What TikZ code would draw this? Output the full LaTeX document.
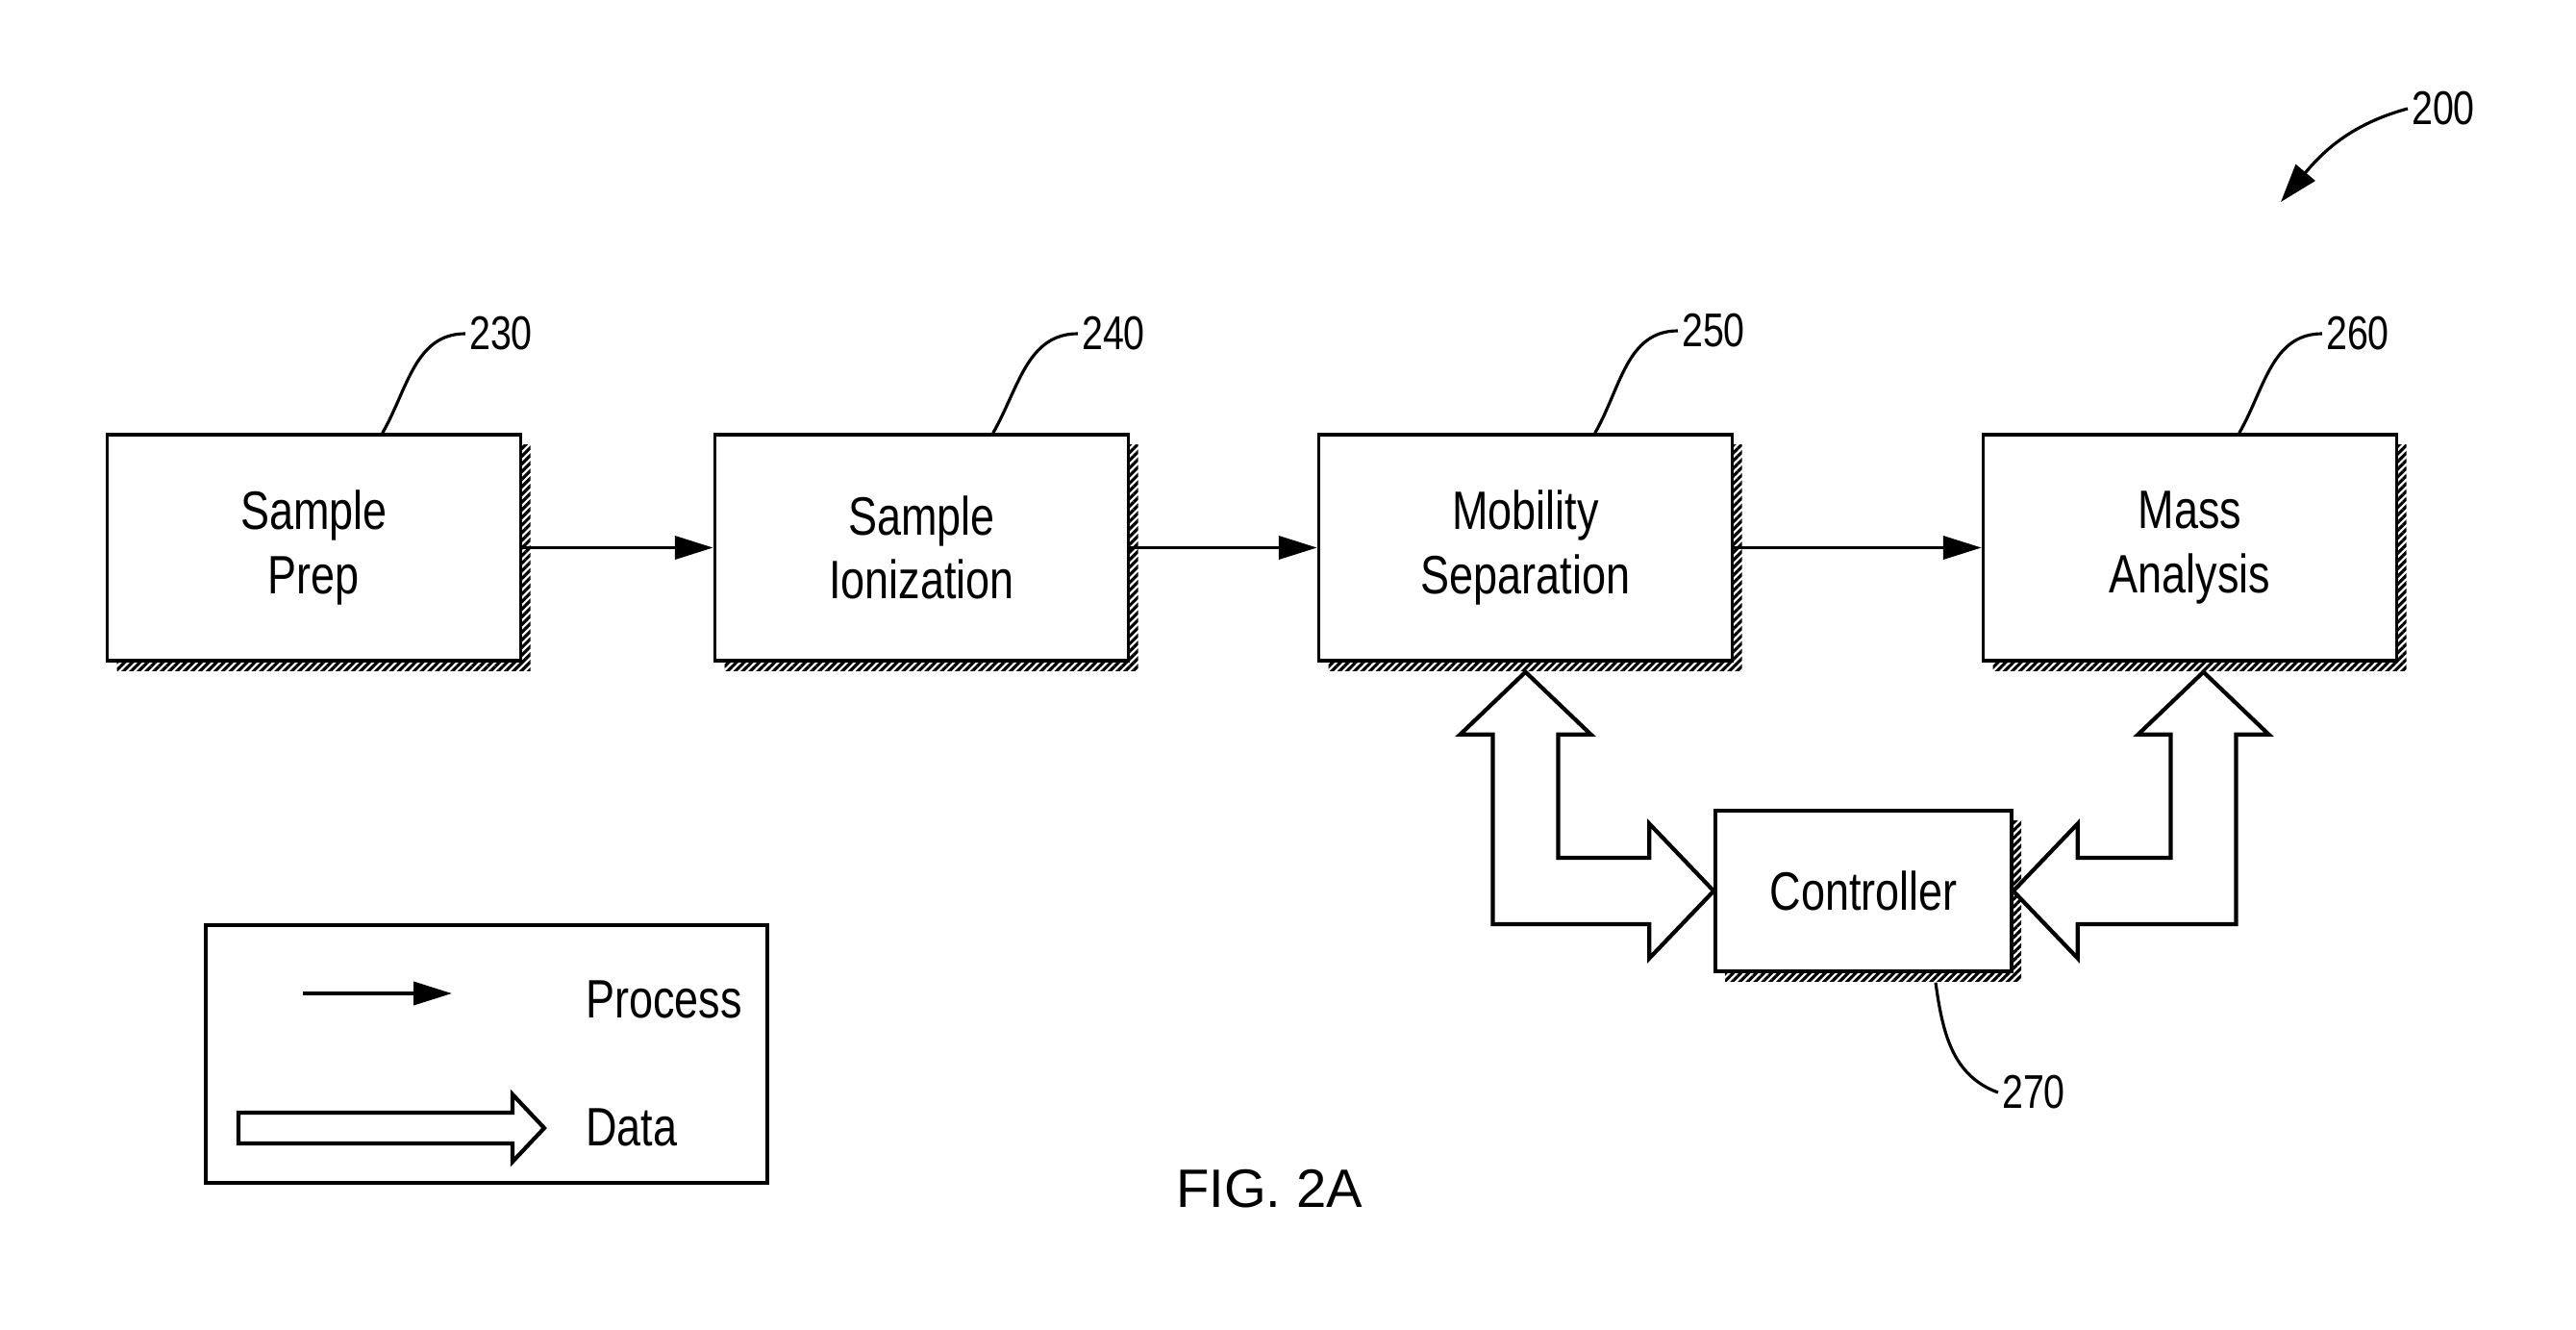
\documentclass[tikz,border=0pt]{standalone}
\usepackage{fontspec}
\setmainfont{Liberation Sans}[FakeStretch=0.8]
\newfontfamily\figfont{Liberation Sans}
\usetikzlibrary{calc,arrows.meta,patterns.meta}

\begin{document}
\begin{tikzpicture}[
  stage/.style={draw,line width=1pt,fill=white,align=center,minimum width=4.3cm,minimum height=2.35cm,
    font=\fontsize{16}{19}\selectfont,
    preaction={draw=none,pattern={Lines[angle=45,distance=1.6pt,line width=0.9pt]},transform canvas={shift={(0.1,-0.1)}}}},
  refnum/.style={font=\fontsize{14}{16}\selectfont,inner sep=1pt},
  keytext/.style={font=\fontsize{16}{19}\selectfont,anchor=west},
  leader/.style={line width=0.9pt},
  process/.style={line width=1.1pt,-{Triangle[length=0.4cm,width=0.24cm]}},
  dataarrow/.style={line width=1.2pt,fill=white,line join=miter}
]
\useasboundingbox (0,0) rectangle (26.79,-13.83);
\coordinate (P) at (3.265,-5.695);
\coordinate (I) at (9.585,-5.695);
\coordinate (M) at (15.865,-5.695);
\coordinate (A) at (22.775,-5.695);
\coordinate (C) at (19.38,-9.265);
\node[stage] (prep) at (P) {Sample\\Prep};
\node[stage] (ion) at (I) {Sample\\Ionization};
\node[stage] (mob) at (M) {Mobility\\Separation};
\node[stage] (mass) at (A) {Mass\\Analysis};
\node[stage,minimum width=3.08cm,minimum height=1.67cm] (ctrl) at (C) {Controller};
\draw[process] (prep.east) -- (ion.west);
\draw[process] (ion.east) -- (mob.west);
\draw[process] (mob.east) -- (mass.west);
\coordinate (t1) at ($(mob.south)+(0,-0.1)$);
\coordinate (t2) at ($(mass.south)+(0.14,-0.1)$);
\draw[dataarrow] (t1) -- ++(0.68,-0.65) -- ++(-0.34,0)
  |- ($(ctrl.west)+(-0.67,0.345)$) -- ++(0,0.355) -- (ctrl.west) -- ++(-0.67,-0.7) -- ++(0,0.355)
  -| ($(t1)+(-0.34,-0.65)$) -- ++(-0.34,0) -- cycle;
\draw[dataarrow] (t2) -- ++(0.68,-0.65) -- ++(-0.34,0)
  |- ($(ctrl.east)+(0.67,-0.345)$) -- ++(0,-0.355) -- (ctrl.east) -- ++(0.67,0.7) -- ++(0,-0.355)
  -| ($(t2)+(-0.34,-0.65)$) -- ++(-0.34,0) -- cycle;
\node[refnum] (n230) at (5.21,-3.47) {230};
\node[refnum] (n240) at (11.58,-3.47) {240};
\node[refnum] (n250) at (17.82,-3.44) {250};
\node[refnum] (n260) at (24.52,-3.47) {260};
\node[refnum] (n270) at (21.15,-11.36) {270};
\node[refnum] (n200) at (25.41,-1.13) {200};
\draw[leader] ($(prep.north west)+(2.88,0)$) to[out=60,in=180] (n230.west);
\draw[leader] ($(ion.north west)+(2.91,0)$) to[out=60,in=180] (n240.west);
\draw[leader] ($(mob.north west)+(2.89,0)$) to[out=60,in=180] (n250.west);
\draw[leader] ($(mass.north west)+(2.68,0)$) to[out=60,in=180] (n260.west);
\draw[leader] ($(ctrl.south)+(0.75,-0.1)$) to[out=-82,in=160] (n270.west);
\coordinate (a200) at (23.72,-2.10);
\draw[leader,-{Triangle[length=0.4cm,width=0.26cm]}] (n200.west) to[out=195,in=50] (a200);
\node[draw,line width=1pt,minimum width=5.84cm,minimum height=2.68cm] (key) at (5.06,-10.96) {};
\coordinate (k1) at (3.15,-10.33);
\coordinate (k2) at (4.70,-10.33);
\draw[process] (k1) -- (k2);
\node[keytext] (proc) at (5.97,-10.39) {Process};
\coordinate (d1) at (2.48,-11.73);
\draw[dataarrow] (d1) -- ++(0,0.16) -- ++(2.85,0) -- ++(0,0.19) -- ++(0.33,-0.35) -- ++(-0.33,-0.35) -- ++(0,0.19) -- ++(-2.85,0) -- cycle;
\node[keytext] (data) at (5.97,-11.72) {Data};
\node[font=\figfont\fontsize{16}{19}\selectfont] (fig) at (13.20,-12.36) {FIG. 2A};
\end{tikzpicture}
\end{document}
